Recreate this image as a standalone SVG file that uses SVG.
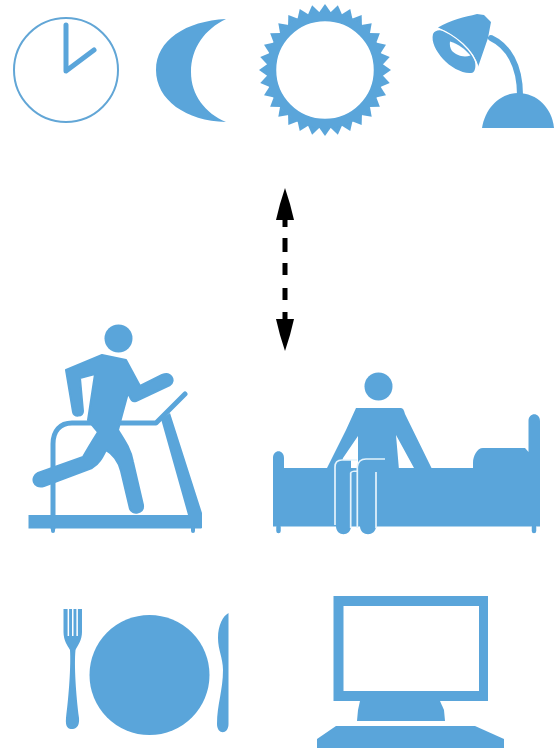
<svg xmlns="http://www.w3.org/2000/svg" width="556" height="749" viewBox="0 0 556 749">
<style>
.f{fill:#5aa5da}
.s{fill:none;stroke:#5aa5da;stroke-linecap:round;stroke-linejoin:round}
.fs{fill:#5aa5da;stroke:#5aa5da;stroke-linejoin:round;stroke-width:2}
.w{fill:none;stroke:#e4f3fc;stroke-width:1.7;stroke-linecap:butt}
.g{fill:#fff}
</style>
<defs>
<filter id="soft" filterUnits="userSpaceOnUse" x="0" y="0" width="556" height="749"><feGaussianBlur stdDeviation="0.75"/></filter>
<marker id="head" viewBox="0 0 32 18" refX="0" refY="9" markerWidth="32" markerHeight="18" markerUnits="userSpaceOnUse" orient="auto-start-reverse"><path d="M0 0Q16 3.500 32 9Q16 14.500 0 18Z" fill="#000"/></marker>
<polygon id="t" class="f" points="319,12.500 325,4 331,12.500"/>
</defs>
<rect width="556" height="749" fill="#fff"/>
<g filter="url(#soft)">
<g id="clock">
<circle cx="66" cy="70" r="52" fill="none" stroke="#62a6d6" stroke-width="2"/>
<path class="s" stroke-width="5" d="M66 25V71L94 50"/>
</g>
<g id="moon">
<path class="f" d="M226 19C186 21 156 40 156 70C156 100 186 121 226 122C205 113 191 95 191 72C191 48 205 29 226 19Z"/>
</g>
<g id="sun">
<use href="#t"/><use href="#t" transform="rotate(11.25 325 70)"/><use href="#t" transform="rotate(22.5 325 70)"/><use href="#t" transform="rotate(33.75 325 70)"/><use href="#t" transform="rotate(45 325 70)"/><use href="#t" transform="rotate(56.25 325 70)"/><use href="#t" transform="rotate(67.5 325 70)"/><use href="#t" transform="rotate(78.75 325 70)"/><use href="#t" transform="rotate(90 325 70)"/><use href="#t" transform="rotate(101.25 325 70)"/><use href="#t" transform="rotate(112.5 325 70)"/><use href="#t" transform="rotate(123.75 325 70)"/><use href="#t" transform="rotate(135 325 70)"/><use href="#t" transform="rotate(146.25 325 70)"/><use href="#t" transform="rotate(157.5 325 70)"/><use href="#t" transform="rotate(168.75 325 70)"/><use href="#t" transform="rotate(180 325 70)"/><use href="#t" transform="rotate(191.25 325 70)"/><use href="#t" transform="rotate(202.5 325 70)"/><use href="#t" transform="rotate(213.75 325 70)"/><use href="#t" transform="rotate(225 325 70)"/><use href="#t" transform="rotate(236.25 325 70)"/><use href="#t" transform="rotate(247.5 325 70)"/><use href="#t" transform="rotate(258.75 325 70)"/><use href="#t" transform="rotate(270 325 70)"/><use href="#t" transform="rotate(281.25 325 70)"/><use href="#t" transform="rotate(292.5 325 70)"/><use href="#t" transform="rotate(303.75 325 70)"/><use href="#t" transform="rotate(315 325 70)"/><use href="#t" transform="rotate(326.25 325 70)"/><use href="#t" transform="rotate(337.5 325 70)"/><use href="#t" transform="rotate(348.75 325 70)"/>
<circle cx="325" cy="70" r="53.500" fill="none" stroke="#5aa5da" stroke-width="9.500"/>
</g>
<g id="lamp">
<path class="f" d="M438 27.500C450 20 465 17 477 14L484 15L491 22L488 38L478 67C475 52 460 38 438 27.500Z"/>
<path class="f" d="M433 34C435 30 440 29.500 445 31.500C458 37 474 53 475 62C476 67 475 71 473 72.500C465 75 451 68 443 59C436 51 431 42 433 34Z"/>
<path class="g" d="M450 41.500C458 44 465 49 470.500 55.500C463 58 456 55 452 51C450 48 449.500 45 450 41.500Z"/>
<path d="M437 28C456 35 473 50 478 67" fill="none" stroke="#fff" stroke-width="1.300"/>
<path class="s" stroke-width="6" stroke-linecap="butt" d="M491 38C508 46 520 65 520 95"/>
<path class="f" d="M482 128C485 108 500 93 518 93C537 93 552 108 554 128Z"/>
</g>
<g id="treadmill">
<circle class="f" cx="118.500" cy="338.500" r="14"/>
<path class="s" stroke-width="5" d="M53 528V444C53 431 60 423 72 423H156L185 394"/>
<path class="f" d="M161 419L170 413L202 513V528H188V515Z"/>
<rect class="f" x="28.500" y="515" width="173" height="13.500"/>
<path class="s" stroke-width="4" d="M53 528V531M193 528V531"/>
<path class="fs" d="M102 355L126 360L140 386L162 375C171 371 176 381 170 385L136 401C133 402 131 400 130 397L128 393L122 415L118 430C125 441 131 450 133 462L143 505C144 514 132 515 130 509L121 471C119 462 112 453 106 450C102 458 99 464 92 468L44 486C33 489 30 477 38 473L83 457C88 448 93 440 98 432L88 420L95 374L80 378L83 411C83 417 74 417 73 412L66 370Z"/>
</g>
<g id="bed">
<circle class="f" cx="378.500" cy="386.500" r="14"/>
<path class="f" d="M273 526.500V458C273 449 284 449 284 458V468H473V463C473 456 477 448 483 448H525L528.500 452V421C528.500 412 540 412 540 421V526.500Z"/>
<path class="s" stroke-width="4.500" d="M278.500 527V531M534 527V531"/>
<path class="f" d="M356 408H401C403 408 404 410 405 414L431.500 468H414L396 435L399 470H358V436L343 458L340 468H327L346 430Z"/>
<path class="f" d="M335 466C335 462 338 460 342 460H351V526C351 537 336 537 336 526Z"/>
<path class="f" d="M358 466C358 461 361 459 366 459H376V526C376 537 360 537 360 526Z"/>
<path class="w" d="M335 525V467C335 462 338 460 342 460H357M350.700 528V473C351 472 354 471 357 471M357.300 528V467C358 461 361 459 366 459H385M376 472V528"/>
</g>
<g id="plate">
<circle class="f" cx="149.500" cy="675" r="60"/>
</g>
<g id="fork">
<path class="f" d="M63.500 609H82V632C82 640 78 645 75.500 650C74 665 76 695 79 718C80 728 74 729 72 729C69 729 65 728 66 718C69 695 71 665 70 650C67 645 63.500 640 63.500 632Z"/>
<path class="g" d="M67.600 609H69.100V636H67.600ZM72 609H73.500V636H72ZM76.400 609H77.900V636H76.400Z"/>
</g>
<g id="knife">
<path class="f" d="M228.500 613V724C228.500 735 217 735 217 724C217 705 223 690 223 670C223 658 218 650 218 638C218 625 223 616 228.500 613Z"/>
</g>
<g id="computer">
<path class="f" fill-rule="evenodd" d="M333.500 596H488V701H333.500ZM343.500 606V691H479V606Z"/>
<path class="f" d="M360 701H440L444 710L445 721H357L358 710Z"/>
<path class="f" d="M336 726H475L504 739V748H317V739Z"/>
</g>
</g>
<g id="connectors" filter="url(#soft)">
<line x1="285" y1="220" x2="285" y2="319" stroke="#000" stroke-width="5" stroke-dasharray="7 11 14 11 12 13 12 12 7" marker-start="url(#head)" marker-end="url(#head)"/>
</g>
</svg>
